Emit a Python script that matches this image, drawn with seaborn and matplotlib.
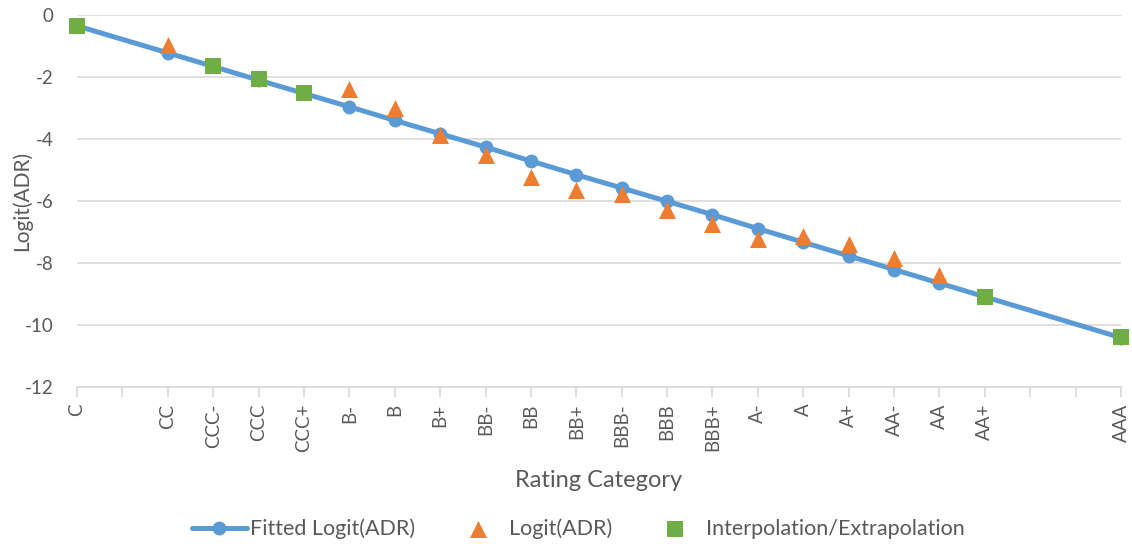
import numpy as np
import pandas as pd
import matplotlib
matplotlib.use("Agg")
import matplotlib.pyplot as plt
import seaborn as sns

# Rating scale: slots 1, 21 and 22 are unlabeled gaps on the axis
tick_labels = ["C", "", "CC", "CCC-", "CCC", "CCC+", "B-", "B", "B+", "BB-", "BB",
               "BB+", "BBB-", "BBB", "BBB+", "A-", "A", "A+", "AA-", "AA", "AA+",
               "", "", "AAA"]

# Fitted Logit(ADR) line
fit_pos = [0, 2, 3, 4, 5, 6, 7, 8, 9, 10, 11, 12, 13, 14, 15, 16, 17, 18, 19, 20, 23]
fit_val = [-0.35, -1.22, -1.66, -2.10, -2.53, -2.96, -3.40, -3.83, -4.26, -4.71,
           -5.15, -5.58, -6.01, -6.44, -6.89, -7.33, -7.77, -8.21, -8.65, -9.09, -10.41]

# Observed Logit(ADR)
obs_pos = [2, 6, 7, 8, 9, 10, 11, 12, 13, 14, 15, 16, 17, 18, 19]
obs_val = [-0.98, -2.38, -3.00, -3.88, -4.53, -5.23, -5.65, -5.77, -6.28, -6.75,
           -7.21, -7.13, -7.40, -7.85, -8.39]

# Interpolated / extrapolated points
ext_pos = [0, 3, 4, 5, 20, 23]
ext_val = [-0.35, -1.64, -2.07, -2.52, -9.09, -10.40]

fit_df = pd.DataFrame({"pos": fit_pos, "val": fit_val})
obs_df = pd.DataFrame({"pos": obs_pos, "val": obs_val})
ext_df = pd.DataFrame({"pos": ext_pos, "val": ext_val})

sns.set_style("white")
plt.rcParams["font.family"] = ["Lato", "DejaVu Sans"]

blue = "#5B9BD5"
orange = "#ED7D31"
green = "#70AD47"
grey_text = "#595959"
grid_c = "#D9D9D9"

fig = plt.figure(figsize=(11.32, 5.44), dpi=100)
ax = fig.add_axes([0.068, 0.2886, 0.9223, 0.6838])

sns.lineplot(data=fit_df, x="pos", y="val", ax=ax, color=blue, linewidth=3.6,
             marker="o", markersize=10, markeredgewidth=0, sort=False,
             label="Fitted Logit(ADR)", zorder=3, clip_on=False)
sns.scatterplot(data=obs_df, x="pos", y="val", ax=ax, color=orange, marker="^",
                s=150, linewidth=0, label="Logit(ADR)", zorder=4, clip_on=False)
sns.scatterplot(data=ext_df, x="pos", y="val", ax=ax, color=green, marker="s",
                s=130, linewidth=0, label="Interpolation/Extrapolation", zorder=5,
                clip_on=False)

ax.set_xlim(0, 23)
ax.set_ylim(-12, 0)
ax.set_yticks(np.arange(-12, 1, 2))
ax.set_yticklabels([str(v) for v in range(-12, 1, 2)])
ax.set_xticks(range(len(tick_labels)))
ax.set_xticklabels(tick_labels, rotation=90)

ax.grid(axis="y", color=grid_c, linewidth=1.2)
ax.set_axisbelow(True)
for side in ["left", "right", "top"]:
    ax.spines[side].set_visible(False)
ax.spines["bottom"].set_color(grid_c)
ax.spines["bottom"].set_linewidth(1.2)
ax.spines["bottom"].set_zorder(1)

ax.tick_params(axis="x", direction="out", length=7, width=1.2, color=grid_c,
               labelsize=13.5, labelcolor=grey_text, pad=5, bottom=True)
ax.tick_params(axis="y", length=0, labelsize=13.5, labelcolor=grey_text, pad=17)

ax.set_xlabel("Rating Category", fontsize=17, color=grey_text)
ax.xaxis.set_label_coords(0.5, -0.222)
ax.set_ylabel("Logit(ADR)", fontsize=15, color=grey_text)
ax.yaxis.set_label_coords(-0.043, 0.5)

handles, labels = ax.get_legend_handles_labels()
ax.get_legend().remove()
fig.legend(handles, labels, loc="center", bbox_to_anchor=(0.5106, 0.028),
           ncol=3, frameon=False, fontsize=15.5, labelcolor=grey_text,
           handlelength=2.55, columnspacing=1.65, handletextpad=0.15,
           borderpad=0)

fig.savefig("out.png", dpi=100)
